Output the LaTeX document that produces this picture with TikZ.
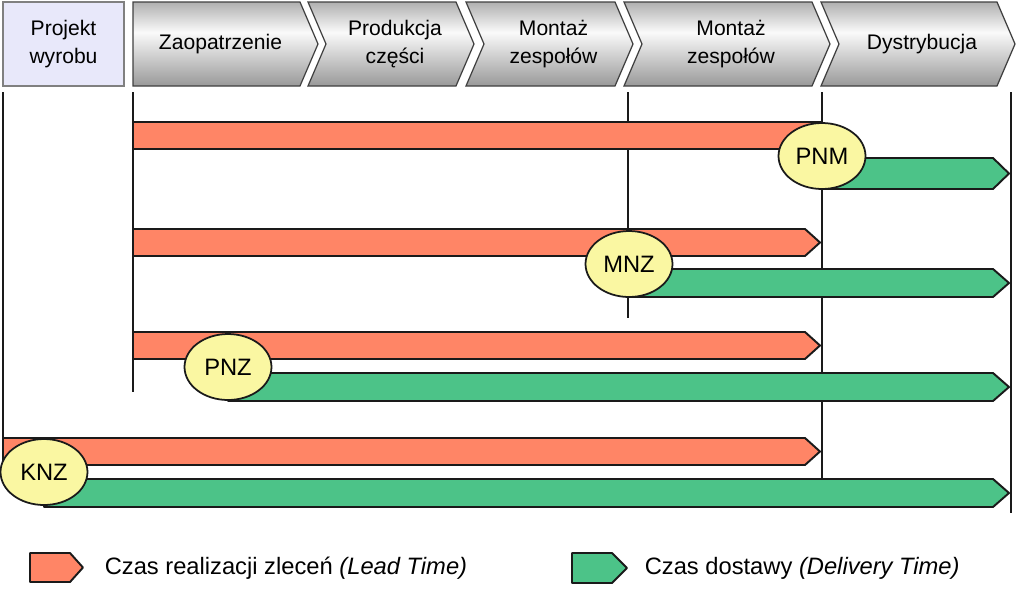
\documentclass[tikz,border=0pt]{standalone}
\usepackage{fontspec}
\setmainfont{Liberation Sans}
\usetikzlibrary{shapes.geometric}
\definecolor{ltorange}{HTML}{FF8566}
\definecolor{dtgreen}{HTML}{4CC388}
\definecolor{msyellow}{HTML}{FAF7A2}
\definecolor{projlav}{HTML}{E8E8FA}
\definecolor{barline}{HTML}{1A1A1A}
\pgfdeclareverticalshading{chevshade}{100bp}{color(0bp)=(gray!80); color(25bp)=(gray!80);
  color(57bp)=(white!96!gray); color(75bp)=(gray!62); color(100bp)=(gray!62)}

\begin{document}
\begin{tikzpicture}[x=0.02cm, y=-0.02cm, line width=0.9pt,
  hdrtext/.style={align=center, font=\fontsize{12}{15.5}\selectfont},
  leadbar/.style={draw=barline, fill=ltorange, line width=1.1pt, line join=round},
  delbar/.style={draw=barline, fill=dtgreen, line width=1.1pt, line join=round},
  milestone/.style={ellipse, draw=barline, fill=msyellow, line width=1pt,
    minimum width=1.74cm, minimum height=1.32cm, inner sep=0pt,
    font=\fontsize{13.5}{16}\selectfont},
  legtext/.style={anchor=west, inner sep=0pt, font=\fontsize{13.5}{16}\selectfont}]
  \useasboundingbox (0,0) rectangle (1024,596);

  % header: product design box and process chevrons
  \filldraw[draw=gray, fill=projlav, line width=0.8pt] (3,2) rectangle (124,86);
  \node[hdrtext] (proj) at (63.5,44) {Projekt\\wyrobu};
  \foreach \l/\r/\n/\txt [count=\k] in {133/300/0/Zaopatrzenie,
      308/456/18/{Produkcja\\części}, 466/615/18/{Montaż\\zespołów},
      624/812/18/{Montaż\\zespołów}, 821/997/18/Dystrybucja}{
    \draw[draw=black!75, line width=0.7pt, shading=chevshade]
      (\l,2) -- (\r,2) -- (\r+18,44) -- (\r,86) -- (\l,86) -- (\l+\n,44) -- cycle;
    \node[hdrtext] (hdr\k) at ({(\l+\n+\r)/2+4},44) {\txt};
  }

  % stage boundaries
  \foreach \x/\yend in {3/438, 133/392, 628/318, 822/478, 1011/513}{
    \draw[barline, line width=1pt] (\x,92) -- (\x,\yend);
  }

  % lead time bars
  \filldraw[leadbar] (133,122) rectangle (822,149);
  \foreach \xa/\ya in {133/229, 133/332, 3/438}{
    \filldraw[leadbar] (\xa,\ya) -- (805,\ya) -- (820,\ya+13.5) -- (805,\ya+27)
      -- (\xa,\ya+27) -- cycle;
  }

  % delivery time bars
  \foreach \xa/\ya/\h in {822/158/31, 629/269/28, 228/373/28, 44/479/28}{
    \filldraw[delbar] (\xa,\ya) -- (993,\ya) -- (1009,\ya+\h/2) -- (993,\ya+\h)
      -- (\xa,\ya+\h) -- cycle;
  }

  % decoupling points
  \node[milestone] (pnm) at (822,156) {PNM};
  \node[milestone] (mnz) at (629,264) {MNZ};
  \node[milestone] (pnz) at (228,367) {PNZ};
  \node[milestone] (knz) at (44,472) {KNZ};

  % legend
  \filldraw[leadbar] (30,553) -- (70,553) -- (83,567.5) -- (70,582) -- (30,582) -- cycle;
  \node[legtext] (leadleg) at (104,568) {Czas realizacji zleceń \textit{(Lead Time)}};
  \filldraw[delbar] (572,553) -- (612,553) -- (627,568) -- (612,583) -- (572,583) -- cycle;
  \node[legtext] (delleg) at (644,568) {Czas dostawy \textit{(Delivery Time)}};
\end{tikzpicture}
\end{document}
